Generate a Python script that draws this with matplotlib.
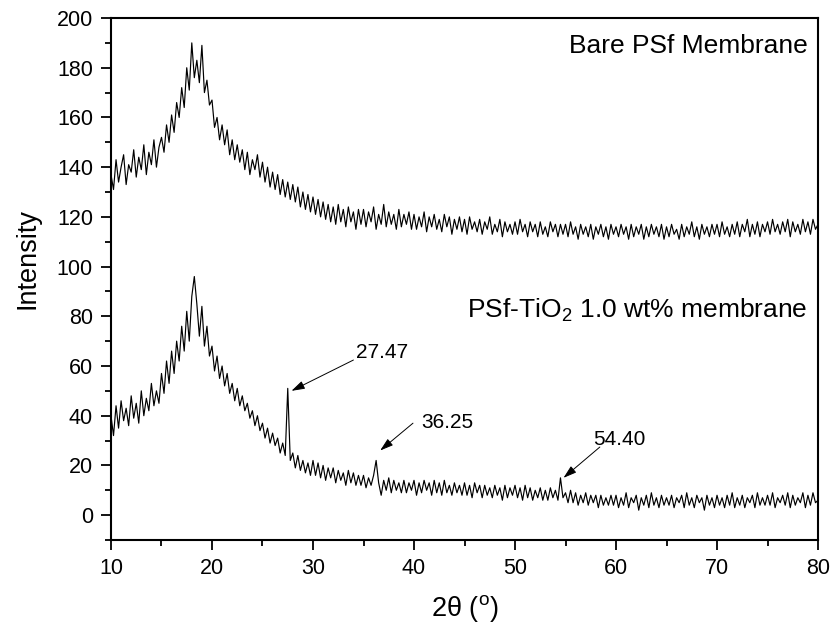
import numpy as np
import matplotlib
matplotlib.use("Agg")
import matplotlib.pyplot as plt
from matplotlib.ticker import MultipleLocator

plt.rcParams['font.family'] = ['Liberation Sans', 'DejaVu Sans']
plt.rcParams['mathtext.fontset'] = 'custom'
plt.rcParams['mathtext.rm'] = 'Liberation Sans'

# 2-theta grid (degrees), 0.25 deg step read-off positions
two_theta = np.arange(10.0, 80.0001, 0.25)

# Bare PSf membrane intensity (20 values per 5 deg)
bare_psf = [
    137, 131, 143, 134, 140, 145, 133, 141, 138, 147, 136, 144, 139, 149, 137, 146, 141, 151, 140, 148,
    152, 146, 157, 150, 161, 154, 166, 160, 172, 164, 180, 171, 190, 176, 183, 174, 189, 170, 175, 165,
    167, 156, 160, 151, 157, 149, 155, 145, 151, 143, 149, 142, 147, 139, 146, 137, 143, 139, 145, 136,
    142, 134, 140, 132, 138, 131, 137, 129, 135, 128, 134, 127, 133, 126, 132, 124, 130, 123, 129, 122,
    128, 121, 127, 120, 126, 119, 125, 118, 124, 117, 125, 118, 123, 116, 124, 118, 122, 115, 123, 117,
    123, 116, 122, 118, 124, 115, 121, 117, 125, 116, 122, 117, 121, 115, 123, 116, 121, 117, 122, 115,
    121, 115, 120, 116, 122, 114, 120, 116, 121, 115, 119, 114, 121, 116, 120, 113, 119, 115, 120, 114,
    119, 113, 120, 115, 118, 114, 119, 113, 118, 115, 120, 113, 117, 114, 119, 112, 118, 114, 117, 113,
    118, 113, 119, 114, 117, 112, 118, 114, 117, 112, 118, 113, 116, 112, 118, 114, 117, 112, 117, 113,
    117, 112, 118, 113, 116, 111, 117, 113, 116, 112, 117, 111, 116, 113, 117, 112, 116, 111, 117, 113,
    116, 112, 117, 113, 116, 111, 117, 112, 116, 113, 117, 111, 116, 112, 117, 113, 116, 112, 117, 111,
    116, 112, 117, 113, 115, 111, 117, 112, 116, 113, 118, 112, 116, 111, 117, 113, 116, 112, 117, 113,
    117, 112, 118, 113, 116, 112, 117, 113, 118, 112, 117, 114, 119, 112, 117, 113, 118, 112, 117, 114,
    118, 113, 119, 114, 117, 113, 118, 114, 119, 112, 118, 114, 117, 113, 119, 114, 118, 113, 119, 115,
    117,
]

# PSf-TiO2 1.0 wt% membrane intensity
psf_tio2 = [
    40, 32, 44, 35, 46, 38, 43, 36, 48, 39, 45, 37, 50, 40, 47, 42, 53, 44, 50, 45,
    57, 49, 62, 53, 66, 57, 70, 62, 76, 66, 82, 70, 88, 96, 85, 72, 84, 68, 76, 64,
    68, 58, 64, 55, 60, 52, 57, 49, 53, 46, 51, 44, 48, 42, 45, 39, 42, 36, 40, 34,
    37, 31, 35, 29, 33, 28, 31, 25, 29, 24, 51, 22, 25, 19, 24, 18, 22, 17, 21, 16,
    22, 16, 21, 15, 20, 14, 19, 15, 19, 13, 18, 14, 17, 12, 18, 13, 17, 12, 16, 12,
    16, 11, 15, 12, 16, 22, 13, 8, 14, 10, 15, 9, 14, 10, 13, 9, 14, 9, 13, 10,
    14, 8, 13, 9, 14, 10, 13, 8, 14, 9, 13, 8, 14, 9, 12, 8, 13, 9, 12, 8,
    13, 8, 12, 7, 13, 9, 12, 7, 12, 8, 11, 7, 12, 8, 11, 6, 12, 7, 11, 8,
    12, 7, 11, 6, 12, 7, 11, 6, 10, 7, 11, 6, 10, 6, 11, 7, 10, 6, 15, 7,
    9, 5, 10, 5, 9, 4, 8, 5, 9, 4, 8, 5, 8, 3, 8, 4, 7, 4, 8, 4,
    8, 3, 7, 4, 9, 3, 7, 5, 8, 2, 7, 4, 8, 3, 9, 4, 7, 3, 8, 4,
    7, 4, 8, 3, 7, 5, 8, 3, 9, 4, 7, 3, 8, 5, 7, 2, 8, 4, 7, 3,
    8, 4, 7, 3, 8, 4, 9, 3, 7, 4, 8, 3, 7, 5, 8, 3, 9, 4, 7, 4,
    8, 4, 9, 3, 7, 5, 8, 4, 9, 3, 8, 4, 7, 5, 9, 3, 8, 4, 9, 5,
    6,
]

# Peak labels and their positions
peak_labels = ["27.47", "36.25", "54.40"]
peak_x = [27.47, 36.25, 54.40]
peak_y = [50, 26, 15]
label_xy = [(34.3, 65.6), (40.7, 37.4), (57.7, 30.6)]
arrow_tail = [(34.0, 62.4), (39.9, 37.0), (58.4, 27.4)]

fig = plt.figure(figsize=(8.32, 6.26), dpi=100)
ax = fig.add_axes([0.1334, 0.1374, 0.8498, 0.8338])

ax.plot(two_theta, bare_psf, color='black', lw=0.85)
ax.plot(two_theta, psf_tio2, color='black', lw=0.85)

ax.set_xlim(10, 80)
ax.set_ylim(-10, 200)
ax.xaxis.set_major_locator(MultipleLocator(10))
ax.xaxis.set_minor_locator(MultipleLocator(5))
ax.yaxis.set_major_locator(MultipleLocator(20))
ax.yaxis.set_minor_locator(MultipleLocator(10))
ax.tick_params(which='both', direction='out', top=False, right=False, width=1.3)
ax.tick_params(which='major', length=7, labelsize=15.5, pad=6)
ax.tick_params(which='minor', length=4)
for s in ax.spines.values():
    s.set_linewidth(1.5)

ax.set_xlabel('2θ ($^{\\rm o}$)', fontsize=19.5, labelpad=10)
ax.set_ylabel('Intensity', fontsize=19.5)
ax.yaxis.set_label_coords(-0.100, 0.54)

ax.text(79.0, 188.7, 'Bare PSf Membrane', ha='right', va='center', fontsize=19)
ax.text(79.0, 82.5, 'PSf-TiO$_2$ 1.0 wt% membrane', ha='right', va='center', fontsize=19)

for lab, (lx, ly), (tx, ty), px, py in zip(peak_labels, label_xy, arrow_tail, peak_x, peak_y):
    ax.text(lx, ly, lab, ha='left', va='center', fontsize=15)
    ax.annotate('', xy=(px + 0.4, py), xytext=(tx, ty),
                arrowprops=dict(arrowstyle='-|>,head_length=0.8,head_width=0.25',
                                color='black', lw=0.7, shrinkA=0, shrinkB=0))

fig.savefig('out.png', dpi=100)
